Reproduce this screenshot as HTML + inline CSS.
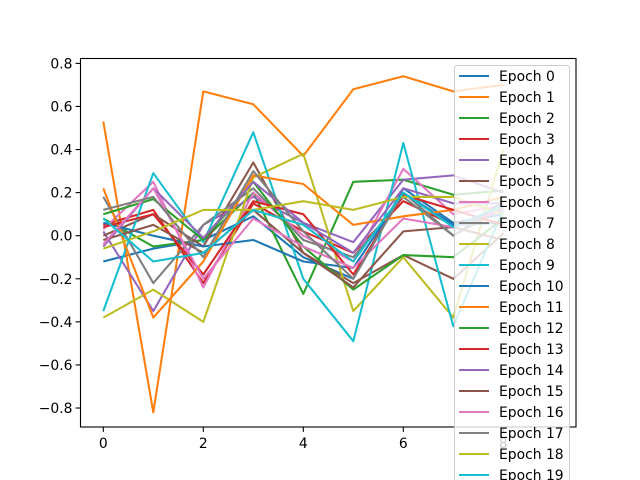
<!DOCTYPE html>
<html><head><meta charset="utf-8"><style>
html,body{margin:0;padding:0;background:#fff;}
svg{display:block;font-family:"DejaVu Sans","Liberation Sans",sans-serif;}
</style></head><body>
<svg id="chart" width="640" height="480" viewBox="0 0 640 480">
<rect x="0" y="0" width="640" height="480" fill="#fff"/>
<g id="series"></g>
<g id="axes"></g>
<g id="legend"></g>
</svg>
<script>
const categories = [0,1,2,3,4,5,6,7,8];
const seriesNames = ["Epoch 0","Epoch 1","Epoch 2","Epoch 3","Epoch 4","Epoch 5","Epoch 6","Epoch 7","Epoch 8","Epoch 9","Epoch 10","Epoch 11","Epoch 12","Epoch 13","Epoch 14","Epoch 15","Epoch 16","Epoch 17","Epoch 18","Epoch 19"];
const s0 = [-0.12,-0.06,-0.02,0.09,-0.10,-0.20,0.22,0.06,0.10];
const s1 = [0.53,-0.82,0.67,0.61,0.37,0.68,0.74,0.67,0.70];
const s2 = [0.08,-0.05,-0.02,0.20,-0.27,0.25,0.26,0.19,0.21];
const s3 = [0.05,0.12,-0.22,0.15,0.02,-0.08,0.16,0.05,0.12];
const s4 = [0.02,-0.35,0.05,0.18,0.06,-0.03,0.26,0.28,0.20];
const s5 = [0.00,0.10,-0.05,0.34,-0.08,-0.22,-0.09,-0.20,0.01];
const s6 = [0.03,0.25,-0.24,0.20,0.00,-0.12,0.31,0.10,0.14];
const s7 = [0.18,-0.22,0.05,0.22,-0.02,-0.10,0.18,0.00,0.13];
const s8 = [-0.38,-0.25,-0.40,0.27,0.38,-0.35,-0.10,-0.38,0.40];
const s9 = [-0.35,0.29,-0.03,0.48,-0.20,-0.49,0.43,-0.42,0.12];
const s10 = [0.06,0.00,-0.05,-0.02,-0.12,-0.15,0.20,0.05,0.06];
const s11 = [0.22,-0.38,-0.12,0.28,0.24,0.05,0.09,0.12,0.18];
const s12 = [0.10,0.17,-0.02,0.25,-0.05,-0.25,-0.09,-0.10,0.08];
const s13 = [0.04,0.10,-0.18,0.16,0.10,-0.18,0.19,0.12,0.05];
const s14 = [-0.05,0.22,-0.01,0.25,0.06,-0.08,0.22,0.15,0.15];
const s15 = [-0.02,0.05,-0.08,0.12,-0.08,-0.24,0.02,0.04,-0.02];
const s16 = [-0.04,0.22,-0.20,0.08,-0.05,-0.15,0.08,0.04,0.12];
const s17 = [0.12,0.18,-0.10,0.30,0.02,-0.20,0.20,0.00,0.16];
const s18 = [-0.06,0.02,0.12,0.12,0.16,0.12,0.18,0.18,0.10];
const s19 = [0.08,-0.12,-0.08,0.12,0.05,-0.12,0.20,0.04,0.14];
const seriesValues = [s0,s1,s2,s3,s4,s5,s6,s7,s8,s9,s10,s11,s12,s13,s14,s15,s16,s17,s18,s19];
const xTicks = [0,2,4,6,8];
const yTicks = [-0.8,-0.6,-0.4,-0.2,0.0,0.2,0.4,0.6,0.8];
const colors = ["#1f77b4","#ff7f0e","#2ca02c","#d62728","#9467bd","#8c564b","#e377c2","#7f7f7f","#bcbd22","#17becf"];

const NS = "http://www.w3.org/2000/svg";
const L = 80.5, R = 576, T = 58.5, B = 427;
function xs(v){ return 103.3 + v * 50; }
function ys(v){ return 235.7 - v * 215.4; }
function mk(tag, attrs, parent){ const e = document.createElementNS(NS, tag); for (const k in attrs) e.setAttribute(k, attrs[k]); parent.appendChild(e); return e; }

const gS = document.getElementById('series');
seriesValues.forEach((vals, i) => {
  const pts = vals.map((v, j) => xs(categories[j]).toFixed(1) + ',' + ys(v).toFixed(1)).join(' ');
  const p = mk('polyline', {points: pts, fill: 'none', stroke: colors[i % 10], 'stroke-width': 2.08, 'stroke-linejoin': 'round'}, gS);
  
  
});

const gA = document.getElementById('axes');
const frame = mk('rect', {x: L, y: T, width: R - L, height: B - T, fill: 'none', stroke: '#000', 'stroke-width': 1.1}, gA);


xTicks.forEach(t => {
  const x = xs(t);
  mk('line', {x1: x, y1: B, x2: x, y2: B + 4.9, stroke: '#000', 'stroke-width': 1.1}, gA);
  const tx = mk('text', {x: x, y: B + 21, 'text-anchor': 'middle', 'font-size': 13.9, fill: '#000'}, gA);
  tx.textContent = String(t);
  
  
});
yTicks.forEach(t => {
  const y = ys(t);
  mk('line', {x1: L, y1: y, x2: L - 4.9, y2: y, stroke: '#000', 'stroke-width': 1.1}, gA);
  const tx = mk('text', {x: L - 8, y: y + 5, 'text-anchor': 'end', 'font-size': 13.9, fill: '#000'}, gA);
  tx.textContent = (t < 0 ? '\u2212' : '') + Math.abs(t).toFixed(1);
  
  
});

const gL = document.getElementById('legend');
const box = mk('rect', {x: 454.5, y: 65.5, width: 115, height: 430, rx: 2, fill: 'rgba(255,255,255,0.8)', stroke: '#ccc', 'stroke-width': 1}, gL);


seriesNames.forEach((n, i) => {
  const y = 76 + i * 21;
  const ln = mk('line', {x1: 459, y1: y, x2: 489, y2: y, stroke: colors[i % 10], 'stroke-width': 2.08}, gL);
  
  
  const tx = mk('text', {x: 499, y: y + 5, 'font-size': 13.9, fill: '#000'}, gL);
  tx.textContent = n;
  
  
});
</script>
</body></html>
